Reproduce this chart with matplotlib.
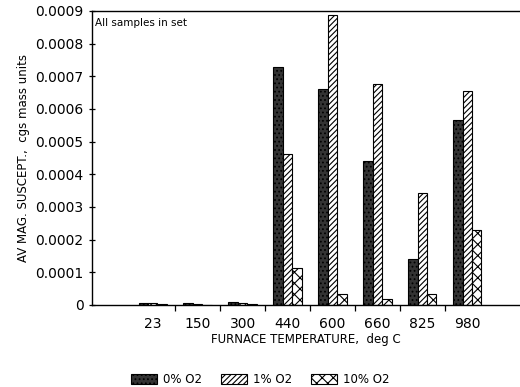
import numpy as np
import matplotlib
matplotlib.use("Agg")
import matplotlib.pyplot as plt
from matplotlib.ticker import FixedLocator

# furnace temperatures, deg C
temps = ["23", "150", "300", "440", "600", "660", "825", "980"]

# average magnetic susceptibility, cgs mass units
o2_0 = [0.000006, 0.000005, 0.000010, 0.000729, 0.000660, 0.000439, 0.000140, 0.000566]
o2_1 = [0.000006, 0.000003, 0.000006, 0.000461, 0.000886, 0.000676, 0.000344, 0.000655]
o2_10 = [0.000004, 0.000001, 0.000004, 0.000112, 0.000034, 0.000018, 0.000032, 0.000230]

series_names = ["0% O2", "1% O2", "10% O2"]
y_ticks = [0, 0.0001, 0.0002, 0.0003, 0.0004, 0.0005, 0.0006, 0.0007, 0.0008, 0.0009]
y_tick_labels = ["0", "0.0001", "0.0002", "0.0003", "0.0004", "0.0005",
                 "0.0006", "0.0007", "0.0008", "0.0009"]

plt.rcParams["hatch.linewidth"] = 0.8

fig = plt.figure(figsize=(5.2, 3.87), dpi=100)
ax = fig.add_axes([0.177, 0.212, 0.821, 0.760])

x = np.arange(len(temps))
w = 0.21
styles = [
    dict(facecolor="#333333", hatch="....", edgecolor="black"),
    dict(facecolor="white", hatch="//////", edgecolor="black"),
    dict(facecolor="white", hatch="xxx", edgecolor="black"),
]
handles = []
for i, (vals, st) in enumerate(zip([o2_0, o2_1, o2_10], styles)):
    b = ax.bar(x + (i - 1) * w, vals, w, linewidth=0.8, label=series_names[i], **st)
    handles.append(b)

ax.set_xlim(-1.35, 8.15)
ax.set_ylim(0, 0.0009)

ax.set_yticks(y_ticks)
ax.set_yticklabels(y_tick_labels, fontsize=10)
ax.tick_params(axis="y", direction="inout", length=5, width=0.9)

ax.set_xticks(x)
ax.set_xticklabels(temps, fontsize=10)
ax.tick_params(axis="x", which="major", length=0, pad=9)
ax.xaxis.set_minor_locator(FixedLocator(x[:-1] + 0.5))
ax.tick_params(axis="x", which="minor", direction="out", length=4, width=0.9)

ax.spines["right"].set_visible(False)
for s in ["left", "bottom", "top"]:
    ax.spines[s].set_linewidth(1.0)

ax.set_xlabel("FURNACE TEMPERATURE,  deg C", fontsize=8.5, labelpad=1)
ax.set_ylabel("AV MAG. SUSCEPT.,  cgs mass units", fontsize=8.5, labelpad=4)

ax.text(0.008, 0.975, "All samples in set", transform=ax.transAxes,
        fontsize=7.5, va="top", ha="left")

fig.legend(handles=handles, loc="lower center", bbox_to_anchor=(0.5, -0.025),
           ncol=3, frameon=False, fontsize=8.5, handlelength=2.2,
           handleheight=1.0, columnspacing=1.6, handletextpad=0.5)

fig.savefig("out.png", dpi=100)
